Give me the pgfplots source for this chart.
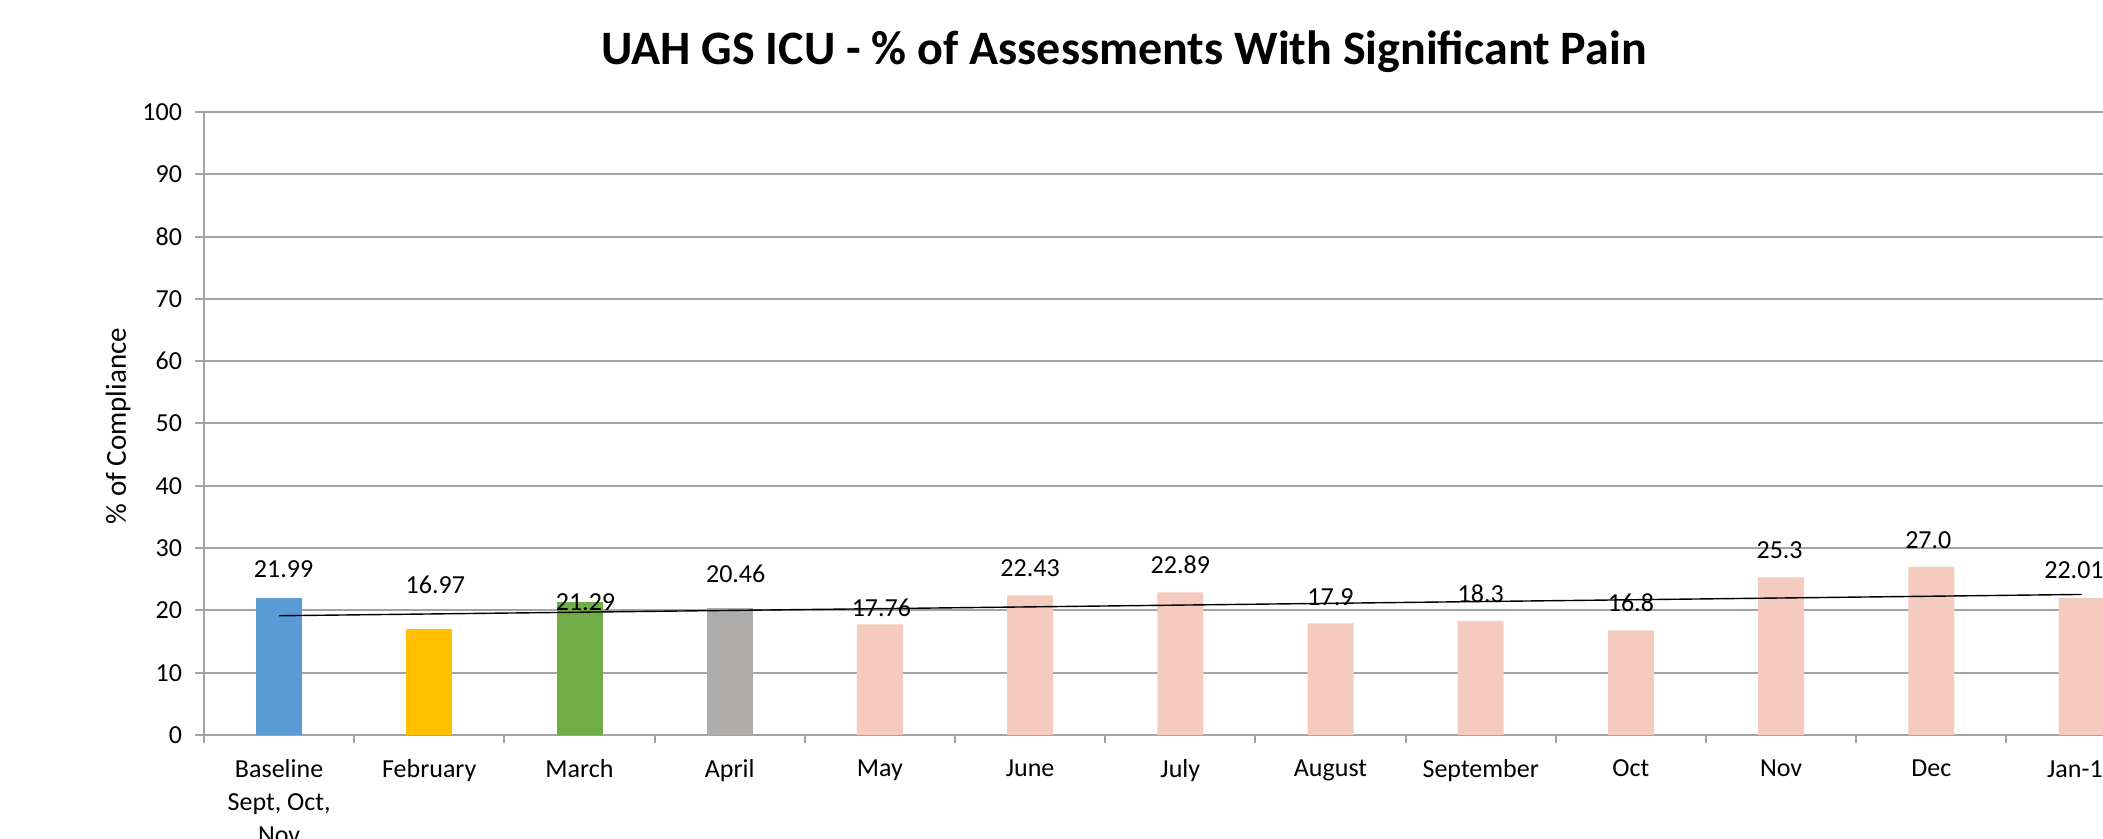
\documentclass[border=0pt]{standalone}
\usepackage{fontspec}
\setmainfont{Carlito}
\usepackage{pgfplots}
\pgfplotsset{compat=1.18}
\definecolor{cblue}{HTML}{5B9BD5}
\definecolor{cyellow}{HTML}{FFC000}
\definecolor{cgreen}{HTML}{70AD47}
\definecolor{cgrey}{HTML}{AEABAB}
\definecolor{cpink}{HTML}{F5CBBF}
\definecolor{gridc}{HTML}{A3A3A3}
\begin{document}
\begin{tikzpicture}
\useasboundingbox (0,0) rectangle (1051.5pt,419.5pt);
\begin{axis}[
  at={(102pt,52pt)}, anchor=south west,
  scale only axis, width=976.3pt, height=311.5pt,
  xmin=0, xmax=13, ymin=0, ymax=100,
  ytick={0,10,...,100},
  xtick={0.5,1.5,2.5,3.5,4.5,5.5,6.5,7.5,8.5,9.5,10.5,11.5,12.5},
  xticklabels={{Baseline\\Sept, Oct,\\Nov},February,March,April,May,June,July,August,September,Oct,Nov,Dec,Jan-16},
  minor xtick={0,1,...,13},
  tick pos=left, tick align=outside,
  major tick length=4.5pt, minor tick length=4pt,
  every tick/.style={gridc, line width=1pt},
  major x tick style={draw=none},
  ymajorgrids, major grid style={gridc, line width=1pt},
  axis line style={gridc, line width=1pt},
  /pgf/number format/assume math mode=true,
  yticklabel style={font=\fontsize{13}{16}\selectfont, xshift=-3pt},
  xticklabel style={font=\fontsize{13}{16.5}\selectfont, align=center, yshift=-4.3pt},
  title={UAH GS ICU - \% of Assessments With Significant Pain},
  title style={at={(0.4712,1.077)}, anchor=center, font=\fontsize{24}{29}\selectfont\bfseries},
  ylabel={\% of Compliance},
  ylabel style={at={(axis description cs:-0.044,0.496)}, anchor=center, font=\fontsize{14.5}{17}\selectfont},
]
\addplot[ybar, bar width=23pt, bar shift=0pt, fill=cblue, draw=none] coordinates {(0.5,21.99)};
\addplot[ybar, bar width=23pt, bar shift=0pt, fill=cyellow, draw=none] coordinates {(1.5,16.97)};
\addplot[ybar, bar width=23pt, bar shift=0pt, fill=cgreen, draw=none] coordinates {(2.5,21.29)};
\addplot[ybar, bar width=23pt, bar shift=0pt, fill=cgrey, draw=none] coordinates {(3.5,20.46)};
\addplot[ybar, bar width=23pt, bar shift=0pt, fill=cpink, draw=none] coordinates {
  (4.5,17.76) (5.5,22.43) (6.5,22.89) (7.5,17.9) (8.5,18.3) (9.5,16.8) (10.5,25.3) (11.5,27.0) (12.5,22.01)};
\addplot[black, line width=0.7pt, mark=none] coordinates {(0.5,19.14) (12.5,22.56)};
\addplot[draw=none, mark=none, nodes near coords, point meta=explicit symbolic,
  nodes near coords style={anchor=center, font=\fontsize{13}{16}\selectfont, text=black}]
  table[meta=lab] {
x y lab
0.53 26.6 21.99
1.54 24.1 16.97
2.54 21.4 21.29
3.54 25.8 20.46
4.51 20.4 17.76
5.50 26.8 22.43
6.50 27.3 22.89
7.50 22.1 17.9
8.50 22.7 18.3
9.50 21.2 16.8
10.49 29.6 25.3
11.48 31.2 27.0
12.45 26.4 22.01
};
\end{axis}
\end{tikzpicture}
\end{document}
